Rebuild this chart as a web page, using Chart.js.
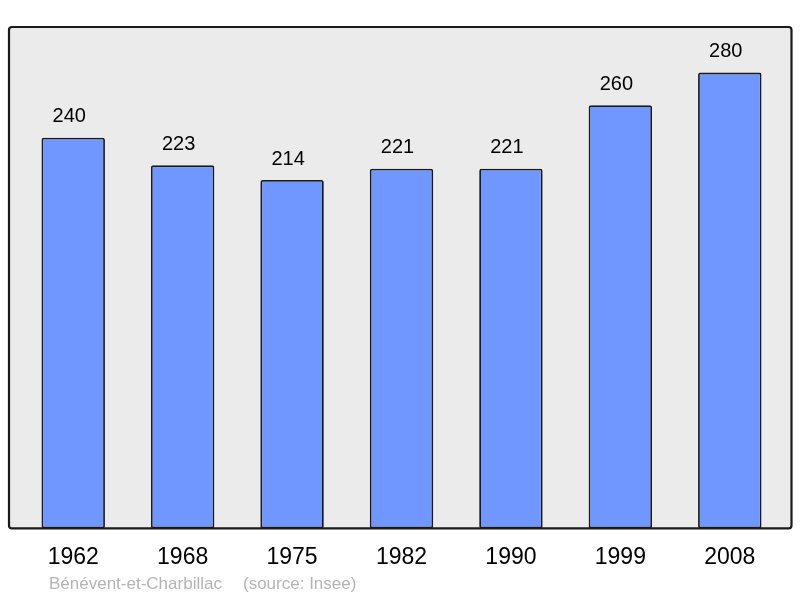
<!DOCTYPE html>
<html>
<head>
<meta charset="utf-8">
<script src="https://cdn.jsdelivr.net/npm/chart.js@4/dist/chart.umd.min.js"></script>
<style>
  html, body { margin: 0; padding: 0; background: #fff; }
  #wrap { width: 800px; height: 598px; position: relative; }
</style>
</head>
<body>
<div id="wrap"><canvas id="popChart"></canvas></div>
<script>
const years = ['1962', '1968', '1975', '1982', '1990', '1999', '2008'];
const population = [240, 223, 214, 221, 221, 260, 280];
const commune = 'Bénévent-et-Charbillac';
const source = '(source: Insee)';

// frame + value labels + footer
const decor = {
    id: 'decor',
    beforeDatasetsDraw(chart) {
        const { ctx, chartArea } = chart;
        const x0 = chartArea.left - 9.5, x1 = chartArea.right + 7;
        const y0 = chartArea.top, y1 = chartArea.bottom;
        ctx.save();
        ctx.beginPath();
        ctx.roundRect(x0, y0, x1 - x0, y1 - y0, 3);
        ctx.fillStyle = '#ebebeb';
        ctx.fill();
        ctx.restore();
    },
    afterDatasetsDraw(chart) {
        const { ctx, chartArea } = chart;
        const x0 = chartArea.left - 9.5, x1 = chartArea.right + 7;
        const y0 = chartArea.top, y1 = chartArea.bottom;
        ctx.save();
        ctx.beginPath();
        ctx.roundRect(x0, y0, x1 - x0, y1 - y0, 3);
        ctx.lineWidth = 2.2;
        ctx.strokeStyle = '#1a1a1a';
        ctx.stroke();

        ctx.fillStyle = '#000';
        ctx.font = '20px "Liberation Sans", Arial, sans-serif';
        ctx.textAlign = 'center';
        ctx.textBaseline = 'middle';
        chart.getDatasetMeta(0).data.forEach((bar, i) => {
            ctx.fillText(String(population[i]), bar.x - 4, bar.y - 21);
        });

        ctx.fillStyle = '#b4b4b4';
        ctx.font = '17px "Liberation Sans", Arial, sans-serif';
        ctx.textAlign = 'left';
        ctx.fillText(commune, 49, 584);
        ctx.fillText(source, 243, 584);
        ctx.restore();
    }
};

const ctx = document.getElementById('popChart').getContext('2d');
const popChart = new Chart(ctx, {
    type: 'bar',
    data: {
        labels: years,
        datasets: [{
            data: population,
            backgroundColor: '#7096ff',
            borderColor: '#1a1a1a',
            borderWidth: 1.8,
            borderRadius: 2,
            borderSkipped: false,
            barPercentage: 0.58,
            categoryPercentage: 1
        }]
    },
    options: {
        responsive: true,
        maintainAspectRatio: false,
        animation: false,
        layout: {
            padding: { left: 18.5, right: 15.5, top: 27, bottom: 12 }
        },
        plugins: {
            legend: { display: false },
            tooltip: { enabled: false }
        },
        scales: {
            x: {
                grid: { display: false, drawTicks: false },
                border: { display: false },
                ticks: {
                    color: '#000',
                    padding: 15,
                    font: { family: '"Liberation Sans", Arial, sans-serif', size: 23 }
                }
            },
            y: {
                display: false,
                min: 0,
                max: 308
            }
        }
    },
    plugins: [decor]
});
</script>
</body>
</html>
